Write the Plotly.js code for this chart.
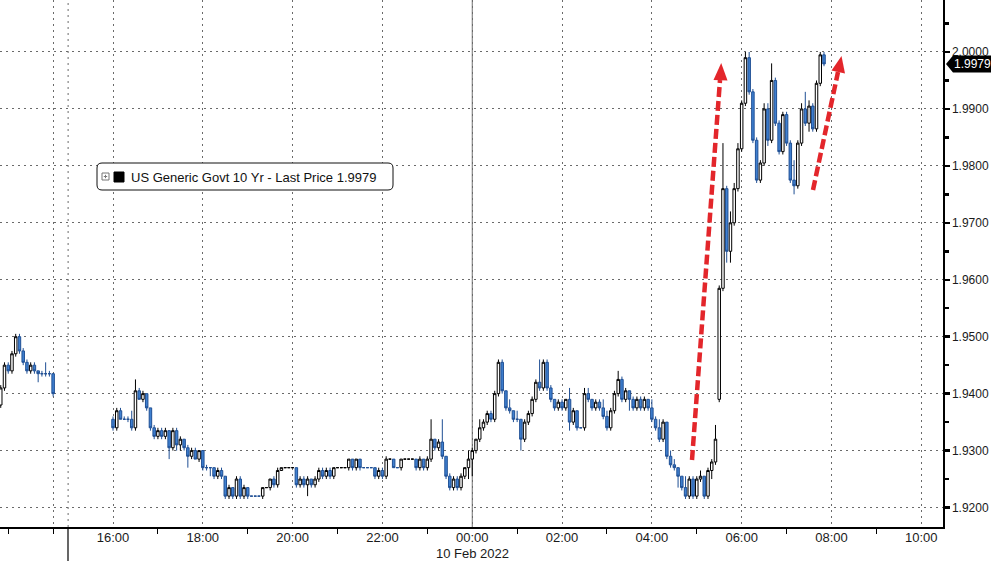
<!DOCTYPE html>
<html><head><meta charset="utf-8">
<script src="https://cdn.plot.ly/plotly-3.0.1.min.js"></script>
<style>html,body{margin:0;padding:0;background:#fff}#chart{width:991px;height:561px}</style>
</head><body><div id="chart"></div>
<script>
// ---- DATA (US Generic Govt 10 Yr, 5-minute bars) ----
const sessionStarts = ['2022-02-09 12:50', '2022-02-09 16:00'];
const sessionBars = [15, 191];
const barMinutes = 5;

const openVals = [
1.9380,1.9410,1.9450,1.9440,1.9470,1.9500,1.9475,1.9455,1.9440,1.9450,1.9440,1.9435,1.9435,1.9435,1.9435,
1.9355,1.9340,1.9370,1.9355,1.9355,1.9355,1.9340,1.9405,1.9390,1.9400,
1.9375,1.9340,1.9325,1.9335,1.9325,1.9335,1.9305,1.9335,1.9310,1.9320,
1.9305,1.9290,1.9300,1.9285,1.9300,1.9270,1.9270,1.9270,1.9255,1.9265,
1.9255,1.9220,1.9235,1.9220,1.9250,1.9220,1.9235,1.9220,1.9220,1.9220,
1.9220,1.9235,1.9235,1.9250,1.9240,1.9265,1.9270,1.9270,1.9270,1.9270,
1.9240,1.9250,1.9240,1.9250,1.9240,1.9250,1.9265,1.9255,1.9265,1.9255,
1.9270,1.9270,1.9270,1.9270,1.9285,1.9270,1.9285,1.9270,1.9270,1.9270,
1.9270,1.9255,1.9265,1.9255,1.9285,1.9285,1.9270,1.9270,1.9285,1.9285,
1.9285,1.9285,1.9270,1.9285,1.9270,1.9285,1.9320,1.9305,1.9315,1.9290,
1.9255,1.9235,1.9250,1.9235,1.9255,1.9270,1.9285,1.9300,1.9320,1.9340,
1.9350,1.9365,1.9355,1.9400,1.9455,1.9405,1.9375,1.9370,1.9355,1.9355,
1.9320,1.9350,1.9365,1.9390,1.9420,1.9410,1.9455,1.9410,1.9390,1.9375,
1.9385,1.9375,1.9390,1.9350,1.9370,1.9340,1.9340,1.9400,1.9390,1.9375,
1.9385,1.9375,1.9360,1.9340,1.9370,1.9400,1.9425,1.9390,1.9405,1.9390,
1.9375,1.9390,1.9375,1.9390,1.9375,1.9355,1.9340,1.9320,1.9350,1.9290,
1.9275,1.9270,1.9255,1.9235,1.9220,1.9250,1.9220,1.9250,1.9255,1.9220,
1.9265,1.9280,1.9390,1.9585,1.9760,1.9650,1.9700,1.9760,1.9830,1.9910,
1.9990,1.9930,1.9845,1.9775,1.9805,1.9900,1.9845,1.9950,1.9875,1.9825,
1.9890,1.9840,1.9775,1.9765,1.9840,1.9900,1.9875,1.9905,1.9865,1.9945,
1.9995];

const highVals = [
1.9415,1.9455,1.9455,1.9475,1.9505,1.9505,1.9480,1.9460,1.9455,1.9455,1.9440,1.9440,1.9455,1.9440,1.9435,
1.9360,1.9375,1.9375,1.9360,1.9360,1.9370,1.9425,1.9410,1.9405,1.9400,
1.9375,1.9345,1.9340,1.9340,1.9340,1.9335,1.9340,1.9340,1.9325,1.9320,
1.9310,1.9305,1.9305,1.9300,1.9300,1.9275,1.9270,1.9270,1.9270,1.9270,
1.9255,1.9240,1.9235,1.9255,1.9255,1.9240,1.9235,1.9220,1.9220,1.9220,
1.9235,1.9235,1.9250,1.9255,1.9270,1.9270,1.9270,1.9270,1.9270,1.9270,
1.9255,1.9255,1.9255,1.9250,1.9255,1.9270,1.9270,1.9270,1.9270,1.9270,
1.9270,1.9270,1.9270,1.9285,1.9285,1.9285,1.9285,1.9270,1.9270,1.9270,
1.9270,1.9270,1.9270,1.9290,1.9285,1.9285,1.9270,1.9285,1.9285,1.9285,
1.9285,1.9285,1.9290,1.9285,1.9290,1.9355,1.9320,1.9320,1.9355,1.9290,
1.9260,1.9255,1.9255,1.9260,1.9270,1.9300,1.9305,1.9320,1.9355,1.9355,
1.9370,1.9370,1.9405,1.9460,1.9460,1.9405,1.9390,1.9370,1.9370,1.9355,
1.9355,1.9370,1.9395,1.9425,1.9460,1.9460,1.9460,1.9415,1.9390,1.9390,
1.9390,1.9390,1.9410,1.9375,1.9370,1.9340,1.9410,1.9410,1.9390,1.9390,
1.9390,1.9390,1.9370,1.9375,1.9405,1.9440,1.9430,1.9410,1.9405,1.9395,
1.9395,1.9395,1.9395,1.9390,1.9390,1.9360,1.9355,1.9355,1.9350,1.9300,
1.9285,1.9270,1.9255,1.9255,1.9255,1.9255,1.9255,1.9265,1.9255,1.9270,
1.9285,1.9345,1.9590,1.9840,1.9765,1.9720,1.9770,1.9840,1.9915,2.0000,
2.0000,1.9935,1.9850,1.9810,1.9910,1.9910,1.9980,1.9955,1.9880,1.9895,
1.9895,1.9845,1.9810,1.9845,1.9910,1.9930,1.9915,1.9910,1.9950,2.0000,
2.0000];

const lowVals = [
1.9375,1.9405,1.9435,1.9435,1.9465,1.9470,1.9450,1.9435,1.9435,1.9435,1.9420,1.9430,1.9430,1.9430,1.9395,
1.9335,1.9335,1.9355,1.9355,1.9350,1.9335,1.9335,1.9390,1.9385,1.9370,
1.9335,1.9320,1.9320,1.9320,1.9320,1.9285,1.9300,1.9300,1.9300,1.9300,
1.9270,1.9285,1.9285,1.9280,1.9265,1.9265,1.9255,1.9250,1.9250,1.9250,
1.9215,1.9215,1.9215,1.9215,1.9215,1.9215,1.9215,1.9220,1.9220,1.9220,
1.9215,1.9235,1.9230,1.9235,1.9235,1.9265,1.9270,1.9270,1.9270,1.9235,
1.9235,1.9235,1.9220,1.9235,1.9235,1.9245,1.9250,1.9250,1.9250,1.9250,
1.9270,1.9270,1.9270,1.9265,1.9265,1.9265,1.9265,1.9270,1.9270,1.9270,
1.9250,1.9250,1.9250,1.9250,1.9285,1.9270,1.9270,1.9265,1.9285,1.9285,
1.9285,1.9265,1.9265,1.9265,1.9265,1.9280,1.9300,1.9300,1.9285,1.9250,
1.9230,1.9230,1.9230,1.9230,1.9250,1.9250,1.9255,1.9295,1.9315,1.9335,
1.9345,1.9350,1.9350,1.9395,1.9400,1.9370,1.9365,1.9350,1.9350,1.9300,
1.9315,1.9345,1.9360,1.9385,1.9405,1.9405,1.9405,1.9385,1.9370,1.9370,
1.9370,1.9370,1.9335,1.9345,1.9335,1.9340,1.9335,1.9385,1.9370,1.9370,
1.9370,1.9355,1.9335,1.9335,1.9365,1.9395,1.9385,1.9385,1.9370,1.9370,
1.9370,1.9370,1.9370,1.9370,1.9350,1.9335,1.9315,1.9315,1.9285,1.9270,
1.9265,1.9235,1.9230,1.9215,1.9215,1.9215,1.9215,1.9245,1.9215,1.9215,
1.9250,1.9275,1.9385,1.9580,1.9630,1.9630,1.9695,1.9755,1.9825,1.9905,
1.9925,1.9840,1.9770,1.9770,1.9800,1.9835,1.9840,1.9870,1.9820,1.9820,
1.9835,1.9770,1.9750,1.9760,1.9835,1.9870,1.9860,1.9860,1.9860,1.9940,
1.9975];

const closeVals = [
1.9410,1.9450,1.9440,1.9470,1.9500,1.9475,1.9455,1.9440,1.9450,1.9440,1.9435,1.9435,1.9435,1.9435,1.9400,
1.9340,1.9370,1.9355,1.9355,1.9355,1.9340,1.9405,1.9390,1.9400,1.9375,
1.9340,1.9325,1.9335,1.9325,1.9335,1.9305,1.9335,1.9310,1.9320,1.9305,
1.9290,1.9300,1.9285,1.9300,1.9270,1.9270,1.9270,1.9255,1.9265,1.9255,
1.9220,1.9235,1.9220,1.9250,1.9220,1.9235,1.9220,1.9220,1.9220,1.9220,
1.9235,1.9235,1.9250,1.9240,1.9265,1.9270,1.9270,1.9270,1.9270,1.9240,
1.9250,1.9240,1.9250,1.9240,1.9250,1.9265,1.9255,1.9265,1.9255,1.9270,
1.9270,1.9270,1.9270,1.9285,1.9270,1.9285,1.9270,1.9270,1.9270,1.9270,
1.9255,1.9265,1.9255,1.9285,1.9285,1.9270,1.9270,1.9285,1.9285,1.9285,
1.9285,1.9270,1.9285,1.9270,1.9285,1.9320,1.9305,1.9315,1.9290,1.9255,
1.9235,1.9250,1.9235,1.9255,1.9270,1.9285,1.9300,1.9320,1.9340,1.9350,
1.9365,1.9355,1.9400,1.9455,1.9405,1.9375,1.9370,1.9355,1.9355,1.9320,
1.9350,1.9365,1.9390,1.9420,1.9410,1.9455,1.9410,1.9390,1.9375,1.9385,
1.9375,1.9390,1.9350,1.9370,1.9340,1.9340,1.9400,1.9390,1.9375,1.9385,
1.9375,1.9360,1.9340,1.9370,1.9400,1.9425,1.9390,1.9405,1.9390,1.9375,
1.9390,1.9375,1.9390,1.9375,1.9355,1.9340,1.9320,1.9350,1.9290,1.9275,
1.9270,1.9255,1.9235,1.9220,1.9250,1.9220,1.9250,1.9255,1.9220,1.9265,
1.9280,1.9320,1.9585,1.9760,1.9650,1.9700,1.9760,1.9830,1.9910,1.9990,
1.9930,1.9845,1.9775,1.9805,1.9900,1.9845,1.9950,1.9875,1.9825,1.9890,
1.9840,1.9775,1.9765,1.9840,1.9900,1.9875,1.9905,1.9865,1.9945,1.9995,
1.9979];

const xTickVals = ['2022-02-09 14:00','2022-02-09 16:00','2022-02-09 18:00','2022-02-09 20:00','2022-02-09 22:00',
  '2022-02-10 00:00','2022-02-10 02:00','2022-02-10 04:00','2022-02-10 06:00','2022-02-10 08:00','2022-02-10 10:00'];
const xTickText = ['','16:00','18:00','20:00','22:00','00:00','02:00','04:00','06:00','08:00','10:00'];
const xMinorTicks = ['2022-02-09 13:00','2022-02-09 14:00','2022-02-09 17:00','2022-02-09 19:00','2022-02-09 21:00',
  '2022-02-09 23:00','2022-02-10 01:00','2022-02-10 03:00','2022-02-10 05:00','2022-02-10 07:00','2022-02-10 09:00'];
const dateLabel = '10 Feb 2022';
const dateLabelAt = '2022-02-10 00:00';
const xRange = ['2022-02-09 12:49', '2022-02-10 10:29'];
const gapBounds = ['2022-02-09 14:20', '2022-02-09 15:00'];
const yRange = [1.91658, 2.00913];
const seriesName = 'US Generic Govt 10 Yr - Last Price';

// ---- BUILD ----
function buildTimes() {
  const out = [];
  sessionStarts.forEach((s, k) => {
    const [d, t] = s.split(' ');
    const [Y, M, D] = d.split('-').map(Number);
    const [h, m] = t.split(':').map(Number);
    const base = Date.UTC(Y, M - 1, D, h, m);
    for (let i = 0; i < sessionBars[k]; i++) {
      out.push(new Date(base + i * barMinutes * 60000).toISOString().slice(0, 16).replace('T', ' '));
    }
  });
  return out;
}
const times = buildTimes();
const lastPrice = closeVals[closeVals.length - 1];

const W = 991, H = 561, M = {l: 0, r: 48, t: 0, b: 34};
const PW = W - M.l - M.r, PH = H - M.t - M.b;
const X = px => px / PW;
const Y = py => 1 - py / PH;
const yPix = v => (yRange[1] - v) / (yRange[1] - yRange[0]) * PH;

const red = '#e3262b';
function arrow(x0, y0, x1, y1, tip, left, right) {
  return [
    {type: 'line', xref: 'paper', yref: 'paper', x0: X(x0), y0: Y(y0), x1: X(x1), y1: Y(y1),
     line: {color: red, width: 4.5, dash: '10px,4px'}, layer: 'above'},
    {type: 'path', xref: 'paper', yref: 'paper', layer: 'above',
     path: `M${X(tip[0])},${Y(tip[1])} L${X(left[0])},${Y(left[1])} L${X(right[0])},${Y(right[1])} Z`,
     fillcolor: red, line: {width: 0}}
  ];
}
function roundRect(x0, y0, x1, y1, r) {
  const rx = r / PW, ry = r / PH;
  const a = X(x0), b = X(x1), top = Y(y0), bot = Y(y1);
  return `M${a + rx},${top} L${b - rx},${top} Q${b},${top} ${b},${top - ry} L${b},${bot + ry} Q${b},${bot} ${b - rx},${bot} ` +
         `L${a + rx},${bot} Q${a},${bot} ${a},${bot + ry} L${a},${top - ry} Q${a},${top} ${a + rx},${top} Z`;
}
const tagY = yPix(lastPrice);
const FONT = 'Liberation Sans, Arial, sans-serif';

const trace = {
  type: 'candlestick', x: times, open: openVals, high: highVals, low: lowVals, close: closeVals,
  name: seriesName, showlegend: false, hoverinfo: 'skip', whiskerwidth: 0,
  increasing: {line: {color: '#000000', width: 1}, fillcolor: '#ffffff'},
  decreasing: {line: {color: '#1f4f94', width: 1}, fillcolor: '#3f80d0'}
};

const dotted = '2px,4px';
const layout = {
  width: W, height: H, margin: M, paper_bgcolor: '#fff', plot_bgcolor: '#fff',
  showlegend: false, hovermode: false, boxgap: 0.05,
  font: {family: FONT, color: '#1a1a1a'},
  xaxis: {
    type: 'date', range: xRange, rangebreaks: [{bounds: gapBounds}],
    rangeslider: {visible: false},
    tickmode: 'array', tickvals: xTickVals, ticktext: xTickText,
    ticks: '', showgrid: true, gridcolor: '#6a6a6a', gridwidth: 1, griddash: dotted,
    minor: {tickmode: 'array', tickvals: xMinorTicks, ticks: 'outside', ticklen: 5, tickcolor: '#000', tickwidth: 1, showgrid: false},
    showline: true, linecolor: '#000', linewidth: 1.5, zeroline: false,
    tickfont: {size: 13, color: '#1a1a1a', family: FONT}, ticklabelstandoff: -2
  },
  yaxis: {
    side: 'right', range: yRange, tick0: 1.92, dtick: 0.01, tickformat: '.4f',
    ticks: 'outside', ticklen: 5, tickwidth: 2.5, tickcolor: '#000',
    minor: {dtick: 0.005, tick0: 1.915, ticks: 'outside', ticklen: 4, tickcolor: '#000', showgrid: false},
    showgrid: true, gridcolor: '#6a6a6a', gridwidth: 1, griddash: dotted,
    showline: true, linecolor: '#000', linewidth: 1.5, zeroline: false,
    tickfont: {size: 12, color: '#1a1a1a', family: FONT}, ticklabelstandoff: 0
  },
  shapes: [
    {type: 'line', xref: 'x', yref: 'paper', x0: '2022-02-10 00:00', x1: '2022-02-10 00:00', y0: 0, y1: 1,
     line: {color: '#6e6e6e', width: 1}, layer: 'below'},
    {type: 'line', xref: 'x', yref: 'paper', x0: gapBounds[1], x1: gapBounds[1], y0: 0, y1: 1,
     line: {color: '#6a6a6a', width: 1, dash: dotted}, layer: 'below'},
    {type: 'line', xref: 'paper', yref: 'paper', x0: X(68), x1: X(68), y0: 0, y1: -M.b / PH,
     line: {color: '#000', width: 1.2}},
    ...arrow(692, 460, 720, 80, [721.2, 63], [713.5, 80], [727.5, 80.5]),
    ...arrow(813, 190, 838, 72, [841.5, 56], [831.5, 70.5], [845, 73.5]),
    {type: 'path', xref: 'paper', yref: 'paper', path: roundRect(97, 163, 393, 190, 5),
     line: {color: '#111', width: 1}, fillcolor: '#fff', layer: 'above'},
    {type: 'rect', xref: 'paper', yref: 'paper', x0: X(102), x1: X(109), y0: Y(173), y1: Y(180),
     line: {color: '#777', width: 1}, fillcolor: '#fff', layer: 'above'},
    {type: 'line', xref: 'paper', yref: 'paper', x0: X(103.8), x1: X(107.2), y0: Y(176.5), y1: Y(176.5),
     line: {color: '#777', width: 1}, layer: 'above'},
    {type: 'line', xref: 'paper', yref: 'paper', x0: X(105.5), x1: X(105.5), y0: Y(174.8), y1: Y(178.2),
     line: {color: '#777', width: 1}, layer: 'above'},
    {type: 'rect', xref: 'paper', yref: 'paper', x0: X(114), x1: X(124), y0: Y(172), y1: Y(182),
     line: {color: '#000', width: 1}, fillcolor: '#000', layer: 'above'},
    {type: 'path', xref: 'paper', yref: 'paper', layer: 'above', fillcolor: '#000', line: {width: 0},
     path: `M${X(946)},${Y(tagY)} L${X(953)},${Y(tagY - 8.5)} L${X(995)},${Y(tagY - 8.5)} L${X(995)},${Y(tagY + 8.5)} L${X(953)},${Y(tagY + 8.5)} Z`}
  ],
  annotations: [
    {xref: 'paper', yref: 'paper', x: X(129), y: Y(177.5), xanchor: 'left', yanchor: 'middle', showarrow: false,
     text: seriesName + ' ' + lastPrice.toFixed(4), font: {size: 13, color: '#111', family: FONT}},
    {xref: 'paper', yref: 'paper', x: X(952), y: Y(tagY), xanchor: 'left', yanchor: 'middle', showarrow: false,
     text: lastPrice.toFixed(4), font: {size: 12, color: '#fff', family: FONT}},
    {xref: 'x', yref: 'paper', x: dateLabelAt, y: Y(553), xanchor: 'center', yanchor: 'middle', showarrow: false,
     text: dateLabel, font: {size: 13, color: '#1a1a1a', family: FONT}}
  ]
};

Plotly.newPlot('chart', [trace], layout, {staticPlot: true, displayModeBar: false});
</script>
</body></html>
